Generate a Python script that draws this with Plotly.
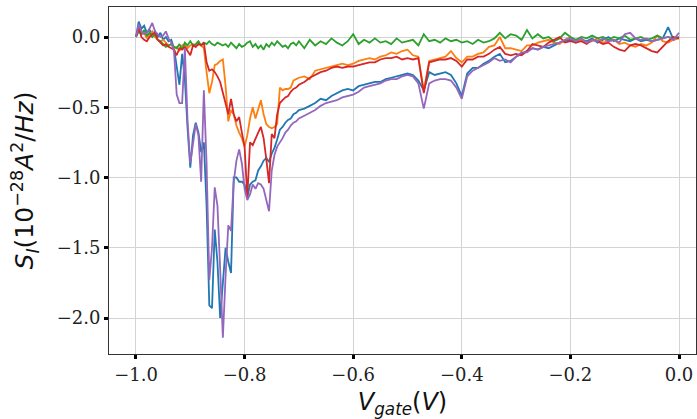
import plotly.graph_objects as go

# gate voltage grid: fine step near the dips, coarser afterwards
v_fine = [round(-1.0 + 0.005 * i, 3) for i in range(61)]
v_coarse = [round(-0.69 + 0.01 * i, 2) for i in range(70)]
v_gate = v_fine + v_coarse

blue = [
    0.0, 0.11, 0.06, 0.08, 0.03, 0.05, 0.02, 0.04, 0.0, 0.03,
    -0.02, 0.0, -0.03, -0.02, -0.08, -0.2, -0.34, -0.12, -0.3, -0.65,
    -0.93, -0.7, -0.61, -0.68, -0.82, -0.75, -1.2, -1.91, -1.93, -1.37,
    -1.6, -2.0, -1.75, -1.5, -1.6, -1.68, -1.0, -1.0, -1.03, -1.03,
    -1.05, -1.14, -1.05, -1.03, -1.02, -0.95, -0.92, -0.88, -0.86, -0.89,
    -0.83, -0.79, -0.73, -0.66, -0.64, -0.61, -0.59, -0.58, -0.55, -0.54,
    -0.52,
    -0.51, -0.49, -0.47, -0.44, -0.45, -0.42, -0.40, -0.38, -0.37, -0.38,
    -0.35, -0.34, -0.33, -0.32, -0.32, -0.30, -0.29, -0.28, -0.27, -0.26,
    -0.27, -0.31, -0.38, -0.25, -0.27, -0.26, -0.25, -0.27, -0.33, -0.42,
    -0.26, -0.22, -0.22, -0.19, -0.17, -0.14, -0.12, -0.18, -0.17, -0.14,
    -0.12, -0.10, -0.08, -0.09, -0.07, -0.08, -0.06, -0.04, -0.03, -0.02,
    -0.04, -0.02, -0.03, -0.01, -0.04, -0.02, 0.0, -0.03, -0.01, -0.02,
    -0.03, -0.01, -0.03, -0.02, -0.03, -0.02, -0.01, 0.07, -0.02, 0.0,
]

orange = [
    0.0, 0.05, 0.02, 0.03, -0.01, 0.02, 0.04, 0.0, -0.02, -0.03,
    -0.02, -0.04, -0.06, -0.05, -0.08, -0.07, -0.1, -0.06, -0.05, -0.08,
    -0.06, -0.05, -0.07, -0.04, -0.06, -0.08, -0.25, -0.40, -0.32, -0.2,
    -0.19, -0.17, -0.16, -0.35, -0.6, -0.52, -0.55, -0.63, -0.68, -0.72,
    -0.78, -0.7, -0.58, -0.50, -0.58, -0.52, -0.45, -0.55, -0.62, -0.64,
    -0.65, -0.64, -0.62, -0.36, -0.38, -0.37, -0.37, -0.36, -0.31, -0.30,
    -0.29,
    -0.28, -0.30, -0.24, -0.23, -0.22, -0.21, -0.20, -0.19, -0.20, -0.19,
    -0.17, -0.16, -0.15, -0.16, -0.14, -0.13, -0.11, -0.12, -0.10, -0.09,
    -0.13, -0.14, -0.38, -0.17, -0.16, -0.15, -0.14, -0.10, -0.15, -0.18,
    -0.14, -0.14, -0.12, -0.11, -0.07, -0.06, 0.0, -0.08, -0.08, -0.09,
    -0.10, -0.06, -0.06, -0.04, -0.03, -0.02, -0.04, -0.05, -0.02, 0.0,
    -0.03, -0.02, -0.04, -0.03, -0.01, -0.04, -0.03, -0.02, -0.05, -0.04,
    -0.06, -0.07, -0.05, -0.06, -0.04, 0.01, -0.03, -0.04, -0.02, -0.01,
]

green = [
    0.0, 0.04, 0.02, 0.05, 0.01, 0.03, 0.0, 0.02, -0.02, -0.03,
    -0.05, -0.07, -0.06, -0.05, -0.07, -0.08, -0.05, -0.09, -0.04, -0.06,
    -0.03, -0.06, -0.05, -0.03, -0.06, -0.04, -0.05, -0.03, -0.05, -0.06,
    -0.04, -0.05, -0.06, -0.05, -0.07, -0.04, -0.06, -0.08, -0.05, -0.07,
    -0.06, -0.04, -0.03, -0.07, -0.05, -0.08, -0.06, -0.09, -0.05, -0.07,
    -0.04, -0.06, -0.03, -0.05, -0.07, -0.06, -0.08, -0.05, -0.04, -0.06,
    -0.03,
    -0.08, -0.02, -0.06, -0.03, -0.05, -0.01, -0.04, -0.06, -0.03, 0.02,
    -0.05, -0.02, -0.04, -0.01, -0.04, -0.03, -0.05, -0.01, -0.04, -0.03,
    -0.02, -0.06, 0.02, -0.03, -0.02, -0.04, -0.01, -0.03, -0.02, -0.04,
    -0.03, -0.05, -0.02, -0.04, -0.03, -0.01, 0.03, -0.01, 0.02, 0.01,
    -0.02, 0.05, -0.01, 0.02, -0.01, 0.0, -0.03, -0.01, 0.03, 0.0,
    -0.02, 0.0, -0.01, 0.01, -0.01, 0.0, -0.02, 0.0, -0.01, 0.01,
    -0.02, -0.01, 0.0, -0.02, -0.01, 0.01, -0.01, 0.0, -0.01, 0.0,
]

red = [
    0.0, 0.07, 0.0, -0.02, -0.03, 0.0, 0.02, 0.03, -0.02, -0.04,
    -0.06, -0.05, -0.07, -0.08, -0.09, -0.13, -0.08, -0.09, -0.07, -0.1,
    -0.13, -0.06, -0.07, -0.05, -0.06, -0.04, -0.18, -0.24, -0.23, -0.25,
    -0.28, -0.32, -0.4, -0.48, -0.55, -0.44, -0.55, -0.6, -0.57, -0.68,
    -0.78, -1.14, -0.75, -0.77, -0.72, -0.68, -0.64, -0.72, -0.87, -1.04,
    -0.69, -0.72, -0.55, -0.47, -0.45, -0.43, -0.42, -0.39, -0.37, -0.36,
    -0.34,
    -0.32, -0.29, -0.27, -0.25, -0.24, -0.22, -0.21, -0.22, -0.21, -0.21,
    -0.20, -0.19, -0.18, -0.18, -0.16, -0.15, -0.15, -0.14, -0.16, -0.15,
    -0.16, -0.15, -0.40, -0.18, -0.17, -0.16, -0.16, -0.15, -0.17, -0.21,
    -0.16, -0.16, -0.14, -0.14, -0.12, -0.09, -0.07, -0.12, -0.13, -0.12,
    -0.13, -0.10, -0.05, -0.06, -0.07, -0.04, -0.02, 0.0, -0.04, -0.03,
    -0.04, -0.03, -0.05, -0.02, -0.03, -0.05, -0.04, -0.07, -0.09, -0.10,
    -0.06, -0.05, -0.06, -0.08, -0.10, -0.11, -0.07, -0.03, 0.0, -0.01,
]

purple = [
    0.0, 0.09, 0.04, 0.02, 0.03, 0.06, 0.1, 0.04, 0.02, 0.0,
    0.01, 0.04, -0.01, -0.04, -0.1, -0.41, -0.47, -0.47, -0.08, -0.6,
    -0.9, -0.75, -0.62, -0.7, -1.03, -0.38, -0.9, -1.73, -1.5, -1.07,
    -1.2, -1.65, -2.14, -1.7, -1.34, -1.38, -1.03, -0.88, -0.80, -0.9,
    -1.08, -1.16, -1.12, -1.05, -1.08, -1.04, -1.05, -1.08, -1.15, -1.24,
    -0.95, -0.84, -0.78, -0.75, -0.72, -0.68, -0.66, -0.63, -0.61, -0.6,
    -0.58,
    -0.56, -0.54, -0.52, -0.49, -0.47, -0.46, -0.45, -0.43, -0.42, -0.41,
    -0.39, -0.36, -0.35, -0.34, -0.33, -0.31, -0.30, -0.30, -0.28, -0.27,
    -0.28, -0.33, -0.51, -0.33, -0.31, -0.30, -0.30, -0.31, -0.36, -0.44,
    -0.28, -0.24, -0.22, -0.20, -0.18, -0.15, -0.17, -0.16, -0.18, -0.14,
    -0.11, -0.11, -0.08, -0.09, -0.07, -0.06, -0.05, -0.04, -0.02, -0.01,
    -0.03, -0.01, -0.04, -0.02, -0.03, -0.01, -0.03, -0.02, -0.04, 0.02,
    0.03, -0.01, -0.02, -0.01, -0.03, -0.02, -0.01, 0.0, -0.02, 0.03,
]

series = [
    ("blue", blue, "#1f77b4"),
    ("orange", orange, "#ff7f0e"),
    ("green", green, "#2ca02c"),
    ("red", red, "#d62728"),
    ("purple", purple, "#9467bd"),
]

x_ticks = [-1.0, -0.8, -0.6, -0.4, -0.2, 0.0]
y_ticks = [-2.0, -1.5, -1.0, -0.5, 0.0]

fig = go.Figure()
for name, vals, col in series:
    fig.add_trace(go.Scatter(x=v_gate, y=vals, mode="lines", name=name,
                             line=dict(color=col, width=1.8)))

axis_common = dict(
    showgrid=True, gridcolor="#d3d3d3", gridwidth=1.3,
    zeroline=False, showline=True, linecolor="#333333", linewidth=1,
    mirror=True, ticks="outside", ticklen=4, tickwidth=3, tickcolor="black",
    tickfont=dict(family="DejaVu Serif", size=18, color="#222222"),
    tickformat=".1f", automargin=False,
)

fig.update_layout(
    width=697, height=419,
    margin=dict(l=109, r=1, t=7, b=65),
    paper_bgcolor="white", plot_bgcolor="white",
    showlegend=False,
    xaxis=dict(range=[-1.0497, 0.0313], tickvals=x_ticks,
               title=dict(text="<i>V</i><sub><i>gate</i></sub>(<i>V</i>)",
                          font=dict(family="DejaVu Sans", size=24, color="#111111")),
               **axis_common),
    yaxis=dict(range=[-2.256, 0.2135], tickvals=y_ticks,
               title=dict(text="<i>S</i><sub><i>I</i></sub>(10<sup>−28</sup><i>A</i><sup>2</sup>/<i>Hz</i>)",
                          font=dict(family="DejaVu Sans", size=25, color="#111111")),
               **axis_common),
)

fig.write_html("out.html", config={"displayModeBar": False},
               post_script="document.body.style.margin='0px';document.body.style.overflow='hidden';")
